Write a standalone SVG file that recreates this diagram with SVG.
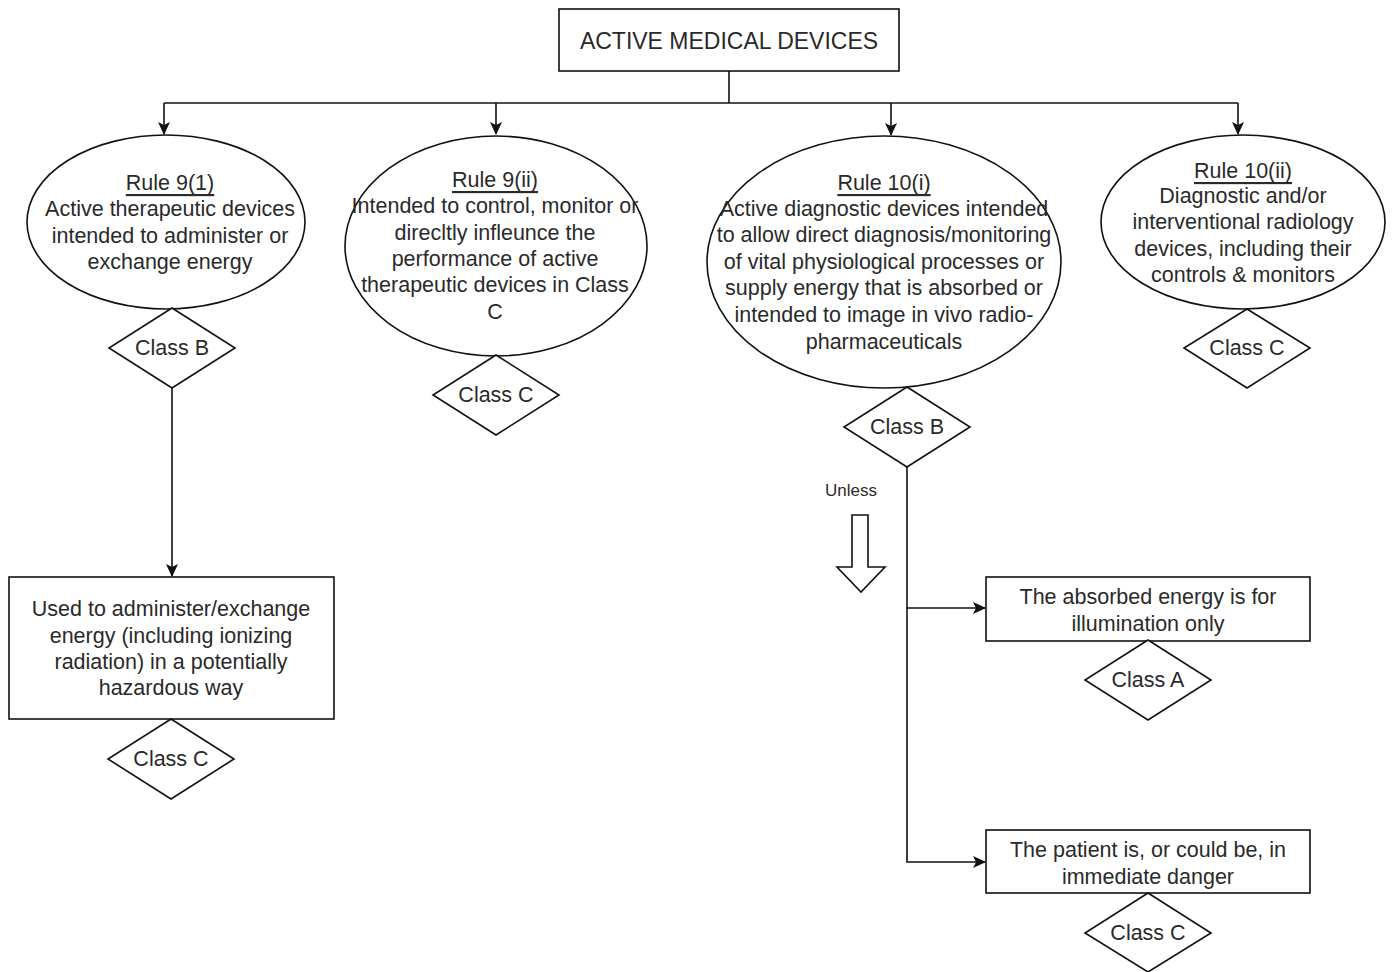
<svg xmlns="http://www.w3.org/2000/svg" width="1396" height="972" viewBox="0 0 1396 972">
<style>
.s{fill:#fff;stroke:#111;stroke-width:1.6}
.t{font-family:"Liberation Sans",Arial,sans-serif;font-size:21.5px;fill:#2a2a2a;text-anchor:middle;dominant-baseline:central}
.u{text-decoration:underline}
.c{fill:none;stroke:#111;stroke-width:1.6}
</style>
<defs>
<marker id="ah" markerWidth="13" markerHeight="12" refX="12" refY="6" orient="auto" markerUnits="userSpaceOnUse">
<path d="M0,0 L13,6 L0,12 L3,6 Z" fill="#111"/>
</marker>
</defs>
<rect width="1396" height="972" fill="#fff"/>
<g id="connectors">
<path class="c" d="M729,71 V103"/>
<path class="c" d="M164,103 H1238"/>
<path class="c" d="M164,103 V134" marker-end="url(#ah)"/>
<path class="c" d="M496,103 V134" marker-end="url(#ah)"/>
<path class="c" d="M891,103 V135" marker-end="url(#ah)"/>
<path class="c" d="M1238,103 V134" marker-end="url(#ah)"/>
<path class="c" d="M172,388 V576" marker-end="url(#ah)"/>
<path class="c" d="M907,467 V862 H985" marker-end="url(#ah)"/>
<path class="c" d="M907,608 H985" marker-end="url(#ah)"/>
</g>
<g id="root">
<rect class="s" x="559" y="9" width="340" height="62"/>
<text class="t" x="729" y="41" style="font-size:23px">ACTIVE MEDICAL DEVICES</text>
</g>
<g id="rule9-1">
<ellipse class="s" cx="166" cy="222" rx="139" ry="87"/>
<text class="t u" x="170" y="183">Rule 9(1)</text>
<text class="t" x="170" y="209">Active therapeutic devices</text>
<text class="t" x="170" y="236">intended to administer or</text>
<text class="t" x="170" y="262">exchange energy</text>
</g>
<g id="class-b-1">
<polygon class="s" points="172,308 235,348 172,388 109,348"/>
<text class="t" x="172" y="348">Class B</text>
</g>
<g id="hazard">
<rect class="s" x="9" y="577" width="325" height="142"/>
<text class="t" x="171" y="609">Used to administer/exchange</text>
<text class="t" x="171" y="636">energy (including ionizing</text>
<text class="t" x="171" y="662">radiation) in a potentially</text>
<text class="t" x="171" y="688">hazardous way</text>
</g>
<g id="class-c-1">
<polygon class="s" points="171,719 234,759 171,799 108,759"/>
<text class="t" x="171" y="759">Class C</text>
</g>
<g id="rule9-2">
<ellipse class="s" cx="496" cy="246" rx="151" ry="110"/>
<text class="t u" x="495" y="180">Rule 9(ii)</text>
<text class="t" x="495" y="206">Intended to control, monitor or</text>
<text class="t" x="495" y="233">direcltly infleunce the</text>
<text class="t" x="495" y="259">performance of active</text>
<text class="t" x="495" y="285">therapeutic devices in Class</text>
<text class="t" x="495" y="312">C</text>
</g>
<g id="class-c-2">
<polygon class="s" points="496,355 559,395 496,435 433,395"/>
<text class="t" x="496" y="395">Class C</text>
</g>
<g id="rule10-1">
<ellipse class="s" cx="884" cy="262" rx="177" ry="126"/>
<text class="t u" x="884" y="183">Rule 10(i)</text>
<text class="t" x="884" y="209">Active diagnostic devices intended</text>
<text class="t" x="884" y="235">to allow direct diagnosis/monitoring</text>
<text class="t" x="884" y="262">of vital physiological processes or</text>
<text class="t" x="884" y="288">supply energy that is absorbed or</text>
<text class="t" x="884" y="315">intended to image in vivo radio-</text>
<text class="t" x="884" y="342">pharmaceuticals</text>
</g>
<g id="class-b-2">
<polygon class="s" points="907,387 970,427 907,467 844,427"/>
<text class="t" x="907" y="427">Class B</text>
</g>
<g id="unless">
<text class="t" x="851" y="490" style="font-size:17px">Unless</text>
<path class="s" d="M852,515 H868 V567 H885 L861,592 L837,567 H852 Z"/>
</g>
<g id="illumination">
<rect class="s" x="986" y="577" width="324" height="64"/>
<text class="t" x="1148" y="597">The absorbed energy is for</text>
<text class="t" x="1148" y="624">illumination only</text>
</g>
<g id="class-a">
<polygon class="s" points="1148,640 1211,680 1148,720 1085,680"/>
<text class="t" x="1148" y="680">Class A</text>
</g>
<g id="danger">
<rect class="s" x="986" y="830" width="324" height="63"/>
<text class="t" x="1148" y="850">The patient is, or could be, in</text>
<text class="t" x="1148" y="877">immediate danger</text>
</g>
<g id="class-c-4">
<polygon class="s" points="1148,893 1211,933 1148,972 1085,933"/>
<text class="t" x="1148" y="933">Class C</text>
</g>
<g id="rule10-2">
<ellipse class="s" cx="1243" cy="222" rx="142" ry="87"/>
<text class="t u" x="1243" y="171">Rule 10(ii)</text>
<text class="t" x="1243" y="196">Diagnostic and/or</text>
<text class="t" x="1243" y="222">interventional radiology</text>
<text class="t" x="1243" y="249">devices, including their</text>
<text class="t" x="1243" y="275">controls &amp; monitors</text>
</g>
<g id="class-c-3">
<polygon class="s" points="1247,309 1310,348 1247,388 1184,348"/>
<text class="t" x="1247" y="348">Class C</text>
</g>
</svg>
